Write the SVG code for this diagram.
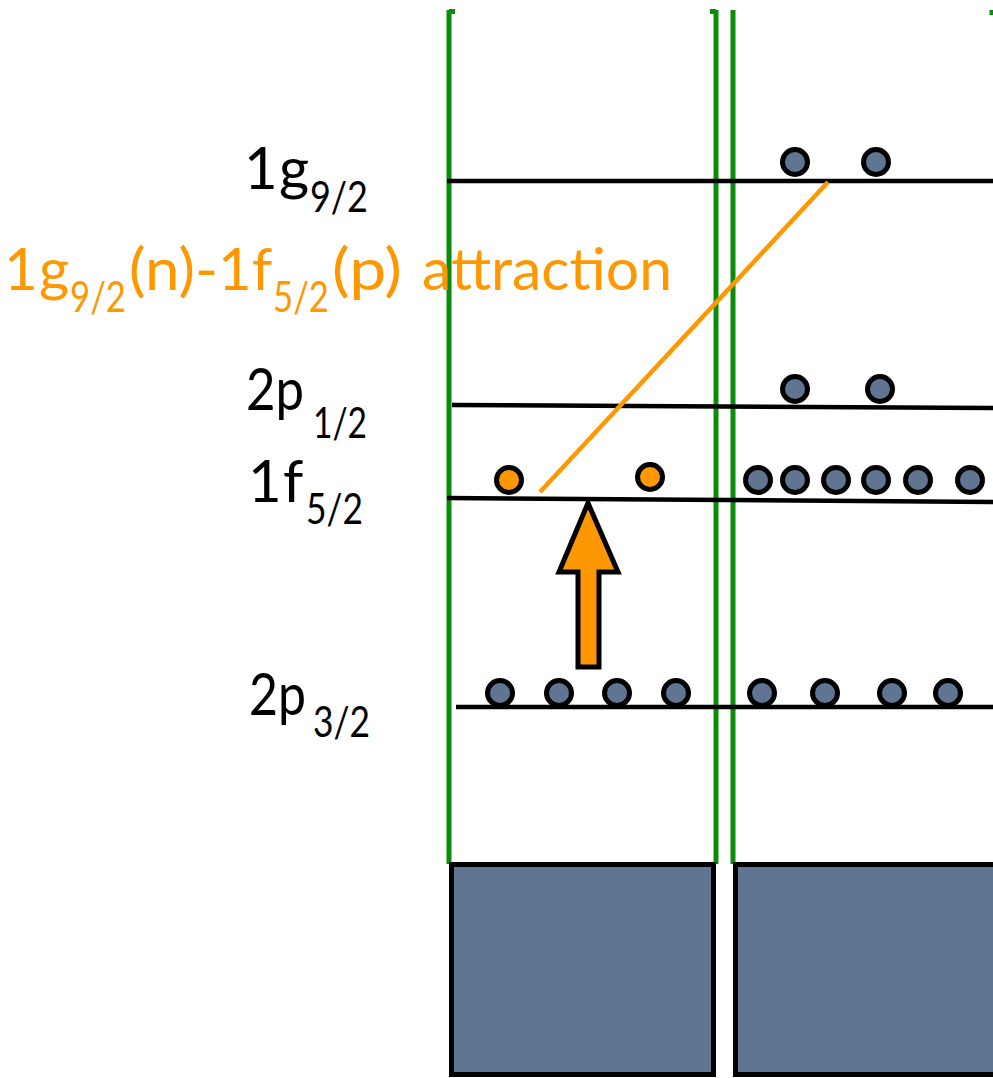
<svg xmlns="http://www.w3.org/2000/svg" width="993" height="1078" viewBox="0 0 993 1078">
<style>
.g{stroke:#0b8c0b;stroke-width:5;fill:none}
.lv{stroke:#000;stroke-width:4.5;fill:none}
.e{fill:#5f7591;stroke:#000;stroke-width:5}
.o{fill:#ff9800;stroke:#000;stroke-width:5}
text{font-family:Lato,"Open Sans",sans-serif;fill:#000;font-size:58px}
.s{font-size:42px}
.ot{fill:#ff9800}
</style>
<rect width="993" height="1078" fill="#fff"/>
<g id="walls">
<path class="g" d="M449 10V864M449 11.5H455M716 10V864M716 11.5H710M733 10V864M992 10V15"/>
</g>
<g id="cores">
<rect x="451.5" y="864.5" width="262" height="210" fill="#5f7591" stroke="#000" stroke-width="5"/>
<rect x="735.5" y="864.5" width="262" height="210" fill="#5f7591" stroke="#000" stroke-width="5"/>
</g>
<g id="levels">
<line class="lv" x1="447" y1="181" x2="993" y2="181"/>
<line class="lv" x1="452" y1="405" x2="993" y2="408"/>
<line class="lv" x1="447" y1="498" x2="993" y2="502"/>
<line class="lv" x1="456" y1="707" x2="993" y2="707"/>
</g>
<g id="label-1g92">
<text y="189"><tspan x="244">1</tspan><tspan x="279">g</tspan><tspan class="s" x="310" y="212" textLength="58" lengthAdjust="spacingAndGlyphs">9/2</tspan></text>
</g>
<g id="label-2p12">
<text y="410"><tspan x="246" textLength="58" lengthAdjust="spacingAndGlyphs">2p</tspan><tspan class="s" x="313" y="438" textLength="54" lengthAdjust="spacingAndGlyphs">1/2</tspan></text>
</g>
<g id="label-1f52">
<text y="502"><tspan x="248">1</tspan><tspan x="283">f</tspan><tspan class="s" x="306" y="524" textLength="57" lengthAdjust="spacingAndGlyphs">5/2</tspan></text>
</g>
<g id="label-2p32">
<text y="715"><tspan x="249" textLength="57" lengthAdjust="spacingAndGlyphs">2p</tspan><tspan class="s" x="313" y="737" textLength="57" lengthAdjust="spacingAndGlyphs">3/2</tspan></text>
</g>
<g id="connectors">
<line x1="540" y1="492" x2="828" y2="182" stroke="#ff9800" stroke-width="4.5"/>
<polygon class="o" points="588,503 618,572 599,572 599,667 578,667 578,572 559,572"/>
</g>
<g id="attraction-label">
<text class="ot" y="290"><tspan x="4">1</tspan><tspan x="39">g</tspan><tspan class="s" x="70" y="312" textLength="56" lengthAdjust="spacingAndGlyphs">9/2</tspan><tspan x="129" y="290" textLength="89" lengthAdjust="spacingAndGlyphs">(n)-</tspan><tspan x="218">1</tspan><tspan x="252">f</tspan><tspan class="s" x="273" y="312" textLength="56" lengthAdjust="spacingAndGlyphs">5/2</tspan><tspan x="332" y="290" textLength="70" lengthAdjust="spacingAndGlyphs">(p)</tspan><tspan x="422" textLength="250" lengthAdjust="spacingAndGlyphs">attraction</tspan></text>
</g>
<g id="particles">
<circle class="e" cx="795" cy="162" r="12.5"/>
<circle class="e" cx="876" cy="162" r="12.5"/>
<circle class="e" cx="795" cy="389" r="12.5"/>
<circle class="e" cx="880" cy="389" r="12.5"/>
<circle class="o" cx="509" cy="480" r="12.5"/>
<circle class="o" cx="650" cy="477" r="12.5"/>
<circle class="e" cx="758" cy="480" r="12.5"/>
<circle class="e" cx="795" cy="480" r="12.5"/>
<circle class="e" cx="836" cy="480" r="12.5"/>
<circle class="e" cx="876" cy="480" r="12.5"/>
<circle class="e" cx="918" cy="480" r="12.5"/>
<circle class="e" cx="970" cy="480" r="12.5"/>
<circle class="e" cx="500" cy="693" r="12.5"/>
<circle class="e" cx="559" cy="693" r="12.5"/>
<circle class="e" cx="617" cy="693" r="12.5"/>
<circle class="e" cx="676" cy="693" r="12.5"/>
<circle class="e" cx="762" cy="693" r="12.5"/>
<circle class="e" cx="825" cy="693" r="12.5"/>
<circle class="e" cx="892" cy="693" r="12.5"/>
<circle class="e" cx="948" cy="693" r="12.5"/>
</g>
</svg>
